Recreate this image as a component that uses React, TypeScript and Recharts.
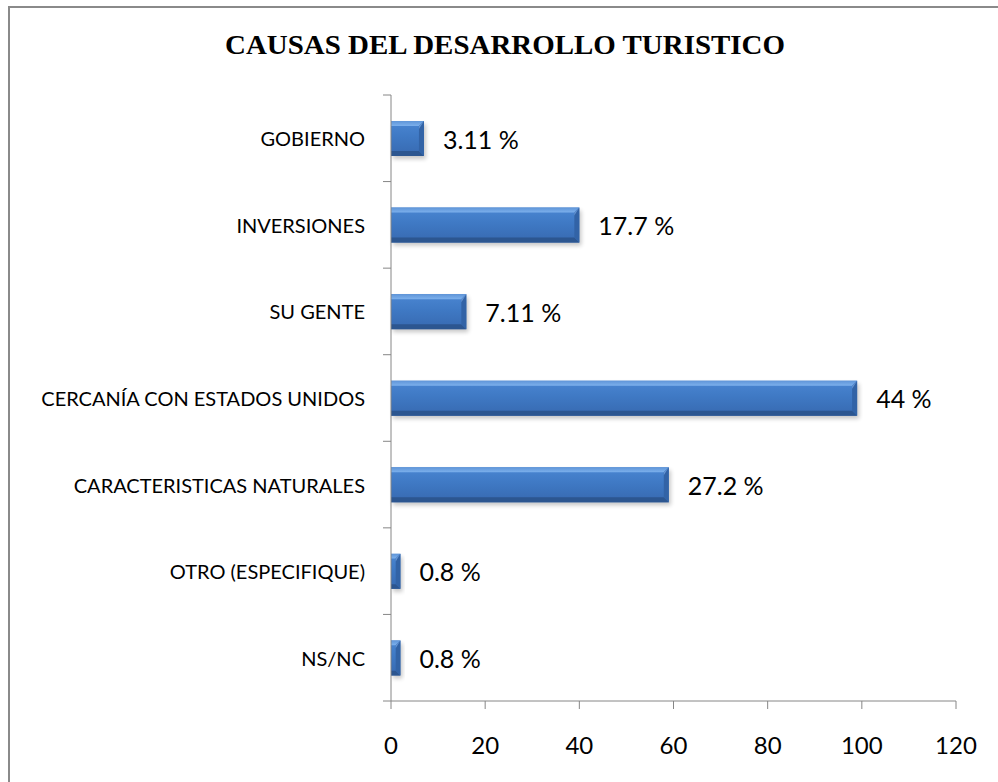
import { BarChart, Bar, XAxis, YAxis, LabelList } from 'recharts';

const CATEGORIES = [
  'GOBIERNO',
  'INVERSIONES',
  'SU GENTE',
  'CERCANÍA CON ESTADOS UNIDOS',
  'CARACTERISTICAS NATURALES',
  'OTRO (ESPECIFIQUE)',
  'NS/NC',
];
const COUNTS = [7, 40, 16, 99, 59, 2, 2];
const PCT_LABELS = ['3.11', '17.7', '7.11', '44', '27.2', '0.8', '0.8'];
const X_TICKS = [0, 20, 40, 60, 80, 100, 120];

const data = CATEGORIES.map((name, i) => ({ name, value: COUNTS[i], pct: PCT_LABELS[i] }));

const W = 998;
const H = 782;
const MARGIN = { top: 95, right: 42, bottom: 31, left: 0 };
const X_AXIS_H = 50;
const Y_AXIS_W = 391;
const PLOT_H = H - MARGIN.top - MARGIN.bottom - X_AXIS_H;
const HALF_BAND = PLOT_H / CATEGORIES.length / 2;

const AXIS = '#868686';
const FRAME = '#8a8a8a';
const FONT = 'Lato, "Open Sans", sans-serif';

function CategoryTick(props: any) {
  const { x, y, payload, index } = props;
  const last = index === CATEGORIES.length - 1;
  return (
    <g>
      <line x1={x - 8} x2={x} y1={y - HALF_BAND} y2={y - HALF_BAND} stroke={AXIS} />
      {last && <line x1={x - 8} x2={x} y1={y + HALF_BAND} y2={y + HALF_BAND} stroke={AXIS} />}
      <text
        x={x - 26}
        y={y}
        textAnchor="end"
        dominantBaseline="central"
        fill="#000"
        style={{ fontFamily: FONT, fontSize: 20 }}
      >
        {payload.value}
      </text>
    </g>
  );
}

function BevelBar(props: any) {
  const { x, y, width, height } = props;
  if (!width || width <= 0) return null;
  const b = Math.min(5, width / 2, height / 5);
  const r = x + width;
  const btm = y + height;
  return (
    <g>
      <rect x={x + 2} y={y + 3} width={width} height={height} fill="#000" opacity={0.22} filter="url(#barShadow)" />
      <rect x={x} y={y} width={width} height={height} fill="url(#barBody)" />
      <polygon points={`${x},${y} ${r},${y} ${r - b},${y + b} ${x},${y + b}`} fill="url(#barTop)" />
      <polygon points={`${x},${btm} ${r},${btm} ${r - b},${btm - b} ${x},${btm - b}`} fill="#2c5690" />
      <polygon points={`${r},${y} ${r},${btm} ${r - b},${btm - b} ${r - b},${y + b}`} fill="#3263a6" />
      <polygon points={`${r},${y} ${r - b},${y + b} ${r - b},${y + b + 3}`} fill="#6f9fdc" opacity={0.8} />
    </g>
  );
}

function PctLabel(props: any) {
  const { x, y, width, height, index } = props;
  return (
    <text
      x={x + width + 19}
      y={y + height / 2}
      dominantBaseline="central"
      fill="#000"
      style={{ fontFamily: FONT, fontSize: 25 }}
    >
      {`${PCT_LABELS[index]} %`}
    </text>
  );
}

export default function App() {
  return (
    <div style={{ width: W, height: H, position: 'relative', background: '#fff', overflow: 'hidden' }}>
      <style>{'body { margin: 0; }'}</style>
      <svg width={W} height={60} style={{ position: 'absolute', left: 0, top: 0 }}>
        <text
          x={505}
          y={54}
          textAnchor="middle"
          textLength={560}
          lengthAdjust="spacingAndGlyphs"
          fill="#000"
          style={{ fontFamily: '"Liberation Serif", "DejaVu Serif", serif', fontSize: 28, fontWeight: 700 }}
        >
          CAUSAS DEL DESARROLLO TURISTICO
        </text>
      </svg>
      <div style={{ position: 'absolute', left: 0, top: 0 }}>
        <BarChart width={W} height={H} data={data} layout="vertical" margin={MARGIN}>
          <defs>
            <linearGradient id="barBody" x1="0" y1="0" x2="0" y2="1">
              <stop offset="0%" stopColor="#4a86d2" />
              <stop offset="45%" stopColor="#3f79c4" />
              <stop offset="100%" stopColor="#3769b0" />
            </linearGradient>
            <linearGradient id="barTop" x1="0" y1="0" x2="0" y2="1">
              <stop offset="0%" stopColor="#5f95d8" />
              <stop offset="100%" stopColor="#7cb0ec" />
            </linearGradient>
            <filter id="barShadow" x="-10%" y="-30%" width="130%" height="170%">
              <feGaussianBlur stdDeviation="2" />
            </filter>
          </defs>
          <XAxis
            type="number"
            domain={[0, 120]}
            ticks={X_TICKS}
            interval={0}
            height={X_AXIS_H}
            tickSize={8}
            tickMargin={28}
            axisLine={{ stroke: AXIS }}
            tickLine={{ stroke: AXIS }}
            tick={{ fill: '#000', fontSize: 24, fontFamily: FONT }}
          />
          <YAxis
            type="category"
            dataKey="name"
            width={Y_AXIS_W}
            interval={0}
            tickSize={0}
            tickMargin={0}
            axisLine={{ stroke: AXIS }}
            tickLine={false}
            tick={<CategoryTick />}
          />
          <Bar dataKey="value" barSize={35} shape={<BevelBar />} isAnimationActive={false}>
            <LabelList dataKey="pct" content={<PctLabel />} />
          </Bar>
        </BarChart>
      </div>
      <div style={{ position: 'absolute', left: 8, top: 6, width: W - 8, height: 2, background: FRAME }} />
      <div style={{ position: 'absolute', left: 8, top: 6, width: 2, height: H - 6, background: FRAME }} />
    </div>
  );
}
